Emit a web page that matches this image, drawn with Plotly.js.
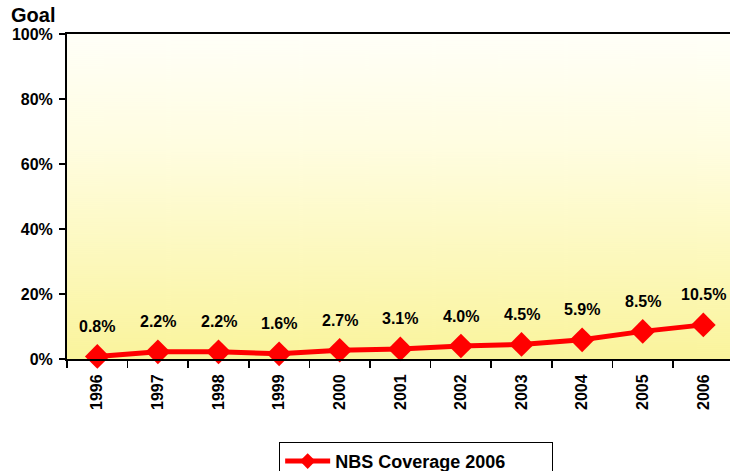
<!DOCTYPE html>
<html>
<head>
<meta charset="utf-8">
<script src="https://cdn.plot.ly/plotly-3.0.1.min.js"></script>
<style>
html,body{margin:0;padding:0;background:#fff;overflow:hidden;}
#chart{width:730px;height:471px;overflow:hidden;}
</style>
</head>
<body>
<div id="chart"></div>
<script>
const years = ["1996","1997","1998","1999","2000","2001","2002","2003","2004","2005","2006"];
const coverage = [0.8, 2.2, 2.2, 1.6, 2.7, 3.1, 4.0, 4.5, 5.9, 8.5, 10.5];
const labels = ["0.8%","2.2%","2.2%","1.6%","2.7%","3.1%","4.0%","4.5%","5.9%","8.5%","10.5%"];
const seriesName = "NBS Coverage 2006";
const yTickVals = [0, 20, 40, 60, 80, 100];
const yTickText = ["0%","20%","40%","60%","80%","100%"];

// gradient background image
const cv = document.createElement('canvas');
cv.width = 10; cv.height = 325;
const ctx = cv.getContext('2d');
const g = ctx.createLinearGradient(0, 0, 0, 325);
g.addColorStop(0, '#fffff8');
g.addColorStop(0.35, '#fffde0');
g.addColorStop(1, '#faf49c');
ctx.fillStyle = g;
ctx.fillRect(0, 0, 10, 325);
const bg = cv.toDataURL();

const font = "Liberation Sans, Arial, sans-serif";

const trace = {
  x: years,
  y: coverage,
  type: 'scatter',
  mode: 'lines+markers',
  name: seriesName,
  line: {color: '#ff0000', width: 5},
  marker: {symbol: 'diamond', size: 19, color: '#ff0000'},
  cliponaxis: false
};

const annotations = years.map((yr, i) => ({
  x: i, y: coverage[i], xref: 'x', yref: 'y',
  text: '<b>' + labels[i] + '</b>', showarrow: false, yshift: 30,
  font: {family: font, size: 16, color: '#000'}
}));
annotations.push({
  xref: 'paper', yref: 'paper', x: -0.087, y: 1.0, xanchor: 'left', yanchor: 'bottom',
  text: '<b>Goal</b>', showarrow: false, yshift: 6,
  font: {family: font, size: 20, color: '#000'}
});

const layout = {
  width: 730, height: 490,
  margin: {l: 67, r: 0, t: 34, b: 131},
  paper_bgcolor: '#ffffff',
  plot_bgcolor: 'rgba(0,0,0,0)',
  showlegend: true,
  images: [{source: bg, xref: 'paper', yref: 'paper', x: 0, y: 1, sizex: 1, sizey: 1,
            sizing: 'stretch', layer: 'below', xanchor: 'left', yanchor: 'top'}],
  xaxis: {
    type: 'category',
    range: [-0.5, 10.44],
    showline: true, linecolor: '#000', linewidth: 2, mirror: true,
    ticks: 'outside', ticklen: 7, tickwidth: 1.5, tickcolor: '#000',
    tickson: 'boundaries',
    tickangle: -90,
    ticklabelstandoff: 7,
    tickfont: {family: font, size: 16, color: '#000', weight: 'bold'},
    showgrid: false, zeroline: false, fixedrange: true
  },
  yaxis: {
    range: [0, 100],
    tickvals: yTickVals, ticktext: yTickText,
    showline: true, linecolor: '#000', linewidth: 2,
    ticks: 'outside', ticklen: 6, tickwidth: 1.5, tickcolor: '#000',
    ticklabelstandoff: 3,
    tickfont: {family: font, size: 16, color: '#000', weight: 'bold'},
    showgrid: false, zeroline: false, fixedrange: true
  },
  legend: {
    orientation: 'h', x: 0.32, y: -0.255, xanchor: 'left', yanchor: 'top',
    bordercolor: '#000', borderwidth: 1, bgcolor: '#fff',
    font: {family: font, size: 18, color: '#000', weight: 'bold'},
    entrywidth: 212, itemwidth: 45, itemsizing: 'constant'
  },
  annotations: annotations
};

Plotly.newPlot('chart', [trace], layout, {displayModeBar: false, staticPlot: true});
</script>
</body>
</html>
